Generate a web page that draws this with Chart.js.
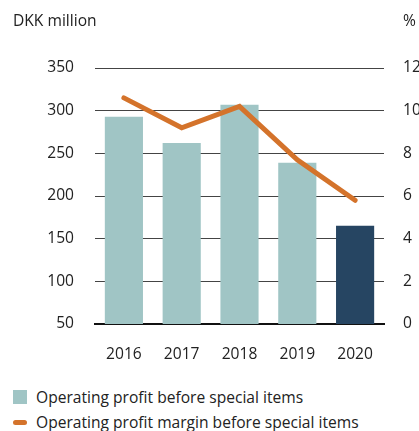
<!DOCTYPE html>
<html>
<head>
<meta charset="utf-8">
<script src="https://cdn.jsdelivr.net/npm/chart.js@4"></script>
<style>
  html, body { margin: 0; padding: 0; background: #fff; }
  #wrap { position: relative; width: 419px; height: 431px; overflow: hidden; font-family: "Open Sans", sans-serif; color: #222; }
  #c { position: absolute; left: 0; top: 0; }
  .t { position: absolute; font-size: 15.6px; line-height: 18px; white-space: nowrap; }
  .sq { position: absolute; width: 14px; height: 14px; background: #a0c5c5; }
  .ln { position: absolute; width: 14px; height: 5px; border-radius: 3px; background: #d4732b; }
</style>
</head>
<body>
<div id="wrap">
  <canvas id="c" width="419" height="370"></canvas>
  <div class="t" style="left:13px; top:11px;">DKK million</div>
  <div class="t" style="left:403px; top:11px;">%</div>
  <div class="sq" style="left:13px; top:390px;"></div>
  <div class="t" style="left:36px; top:388px;">Operating profit before special items</div>
  <div class="ln" style="left:13px; top:420px;"></div>
  <div class="t" style="left:36px; top:413px;">Operating profit margin before special items</div>
</div>
<script>
const years = ['2016', '2017', '2018', '2019', '2020'];
const operatingProfit = [293, 262, 307, 239, 165];
const profitMargin = [10.6, 9.2, 10.2, 7.7, 5.8];
const leftTicks = [50, 100, 150, 200, 250, 300, 350];
const rightTicks = [0, 2, 4, 6, 8, 10, 12];

const barColors = ['#a0c5c5', '#a0c5c5', '#a0c5c5', '#a0c5c5', '#264562'];
const font = { family: '"Open Sans", sans-serif', size: 15.6 };

new Chart(document.getElementById('c'), {
  data: {
    labels: years,
    datasets: [
      {
        type: 'line',
        label: 'Operating profit margin before special items',
        data: profitMargin,
        yAxisID: 'y1',
        borderColor: '#d4732b',
        borderWidth: 5,
        borderCapStyle: 'round',
        borderJoinStyle: 'miter',
        pointRadius: 0,
        tension: 0,
        order: 0
      },
      {
        type: 'bar',
        label: 'Operating profit before special items',
        data: operatingProfit,
        yAxisID: 'y',
        backgroundColor: barColors,
        categoryPercentage: 0.66,
        barPercentage: 1,
        order: 1
      }
    ]
  },
  options: {
    responsive: false,
    animation: false,
    layout: { padding: { top: 68, left: 0, right: 0, bottom: 0 } },
    plugins: { legend: { display: false }, tooltip: { enabled: false } },
    scales: {
      x: {
        grid: { display: false, drawTicks: false },
        border: { display: true, color: '#111', width: 2 },
        ticks: { color: '#222', font: font, padding: 21 },
        afterFit: s => { s.height = 46; }
      },
      y: {
        position: 'left',
        min: 50, max: 350,
        afterBuildTicks: s => { s.ticks = leftTicks.map(v => ({ value: v })); },
        grid: { color: '#444', lineWidth: 1, drawTicks: false },
        border: { display: false },
        ticks: { color: '#222', font: font, padding: 21 },
        afterFit: s => { s.width = 95; }
      },
      y1: {
        position: 'right',
        min: 0, max: 12,
        afterBuildTicks: s => { s.ticks = rightTicks.map(v => ({ value: v })); },
        grid: { display: false, drawTicks: false },
        border: { display: false },
        ticks: { color: '#222', font: font, padding: 19 },
        afterFit: s => { s.width = 35; }
      }
    }
  }
});
</script>
</body>
</html>
